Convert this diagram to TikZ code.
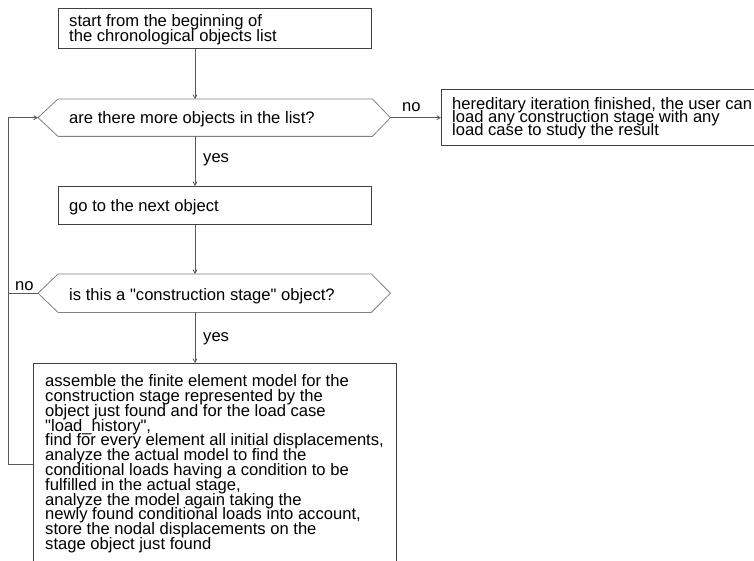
\documentclass[tikz,border=0pt]{standalone}
\usepackage{fontspec}
\setmainfont{Liberation Sans}[Ligatures=TeXOff]
\usetikzlibrary{arrows.meta,calc}
\newcommand{\tightlines}{\lineskiplimit=-50pt\relax\lineskip=0pt\relax}
\begin{document}
\begin{tikzpicture}[x=1pt,y=-1pt,
  boxline/.style={draw=black!75, line width=0.8pt},
  hexline/.style={draw=black!50, line width=0.8pt},
  conn/.style={draw=black!65, line width=0.8pt, -{Straight Barb[length=3.5pt,width=4pt]}},
  plainconn/.style={draw=black!65, line width=0.8pt},
  txt/.style={font=\fontsize{16.6}{14.8}\selectfont\tightlines, align=left, inner sep=0pt, anchor=base west},
  tighttxt/.style={txt, font=\fontsize{16.6}{13}\selectfont\tightlines},
  frame/.style={rectangle, inner sep=0pt, anchor=north west},
  lbl/.style={font=\fontsize{16.6}{14.8}\selectfont, inner sep=0pt, anchor=base west}]
\useasboundingbox (0,0) rectangle (754,561);
\clip (0,0) rectangle (754,561);

% box 1 (text anchored at the baseline of its last line)
\node[frame, boxline, minimum width=313pt, minimum height=40pt] (b1) at (58,8) {};
\node[txt] (t1) at (69,41.5) {start from the beginning of\\the chronological objects list};

% decision 1
\node[frame, minimum width=314pt, minimum height=37pt] (q1) at (58,99) {};
\coordinate (q1l) at ($(q1.west)+(-20,0)$);
\coordinate (q1r) at ($(q1.east)+(18,0)$);
\draw[hexline] (q1.north west) -- (q1.north east) -- (q1r) -- (q1.south east) -- (q1.south west) -- (q1l) -- cycle;
\node[txt] (tq1) at (69,124) {are there more objects in the list?};

% box 2
\node[frame, boxline, minimum width=330pt, minimum height=56pt] (b2) at (441,89) {};
\node[tighttxt] (t2) at (452,135.3) {hereditary iteration finished, the user can\\load any construction stage with any\\load case to study the result};

% box 3
\node[frame, boxline, minimum width=313pt, minimum height=38pt] (b3) at (58,186) {};
\node[txt] (t3) at (69,211.7) {go to the next object};

% decision 2
\node[frame, minimum width=313pt, minimum height=38pt] (q2) at (58,274) {};
\coordinate (q2l) at ($(q2.west)+(-20,0)$);
\coordinate (q2r) at ($(q2.east)+(19,0)$);
\draw[hexline] (q2.north west) -- (q2.north east) -- (q2r) -- (q2.south east) -- (q2.south west) -- (q2l) -- cycle;
\node[txt] (tq2) at (69,300) {is this a "construction stage" object?};

% box 4
\node[frame, boxline, minimum width=363pt, minimum height=202pt] (b4) at (33,363) {};
\node[txt] (t4) at (45,549.5) {assemble the finite element model for the\\construction stage represented by the\\object just found and for the load case\\"load\_history",\\find for every element all initial displacements,\\analyze the actual model to find the\\conditional loads having a condition to be\\fulfilled in the actual stage,\\analyze the model again taking the\\newly found conditional loads into account,\\store the nodal displacements on the\\stage object just found};

% connectors
\coordinate (ax) at (195,0);
\coordinate (lx) at (8,0);
\draw[conn] (ax |- b1.south) -- (ax |- q1.north);
\draw[conn] (ax |- q1.south) -- (ax |- b3.north);
\draw[conn] (ax |- b3.south) -- (ax |- q2.north);
\draw[conn] (ax |- q2.south) -- (ax |- b4.north);
\draw[conn] (q1r) -- (q1r -| b2.west);
\draw[conn] (b4.west) -- (lx |- b4.west) -- (lx |- q1l) -- (q1l);
\draw[plainconn] (q2l) -- (lx |- q2l);

% labels
\node[lbl] (yes1) at (203,163) {yes};
\node[lbl] (yes2) at (203,341) {yes};
\node[lbl] (no1) at (402,112) {no};
\node[lbl] (no2) at (15,290) {no};
\end{tikzpicture}
\end{document}
